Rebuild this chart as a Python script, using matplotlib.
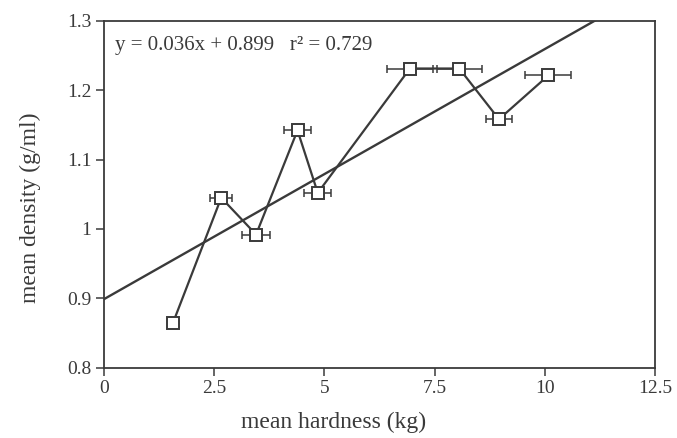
import numpy as np
import matplotlib.pyplot as plt

plt.rcParams['font.family'] = ['Liberation Serif', 'DejaVu Serif']

# data
hardness = [1.56, 2.66, 3.45, 4.39, 4.85, 6.94, 8.06, 8.96, 10.08]
density = [0.864, 1.045, 0.992, 1.142, 1.052, 1.231, 1.231, 1.158, 1.221]
hardness_err = [0.0, 0.25, 0.32, 0.31, 0.31, 0.52, 0.51, 0.30, 0.52]

slope = 0.036
intercept = 0.899
fit_label = 'y = 0.036x + 0.899   r² = 0.729'

xticks = [0, 2.5, 5, 7.5, 10, 12.5]
xticklabels = ['0', '2.5', '5', '7.5', '10', '12.5']
yticks = [0.8, 0.9, 1.0, 1.1, 1.2, 1.3]
yticklabels = ['0.8', '0.9', '1', '1.1', '1.2', '1.3']

ink = '#3a3a3a'

fig = plt.figure(figsize=(6.77, 4.38), dpi=100)
ax = fig.add_axes([0.1536, 0.160, 0.8139, 0.793])

# regression line
xs = np.array([0, 12.5])
ax.plot(xs, slope * xs + intercept, color=ink, lw=1.7, zorder=2)

# connecting line + horizontal error bars
ax.errorbar(hardness, density, xerr=hardness_err, fmt='none', ecolor=ink,
            elinewidth=1.1, capsize=2.8, capthick=1.1, zorder=3)
ax.plot(hardness, density, color=ink, lw=1.6, zorder=3)
ax.plot(hardness, density, ls='none', marker='s', ms=8.5, mfc='white',
        mec=ink, mew=1.4, zorder=4)

ax.text(0.25, 1.2635, fit_label, fontsize=15, color=ink, va='center', ha='left')

ax.set_xlim(0, 12.5)
ax.set_ylim(0.8, 1.3)
ax.set_xticks(xticks)
ax.set_xticklabels(xticklabels)
ax.set_yticks(yticks)
ax.set_yticklabels(yticklabels)
ax.tick_params(direction='out', length=6, width=1.1, color=ink,
               labelsize=14, labelcolor=ink, pad=3)
for s in ax.spines.values():
    s.set_color(ink)
    s.set_linewidth(1.3)

ax.set_xlabel('mean hardness (kg)', fontsize=17, color=ink, va='center')
ax.xaxis.set_label_coords(0.417, -0.158)
ax.set_ylabel('mean density (g/ml)', fontsize=17, color=ink, va='center')
ax.yaxis.set_label_coords(-0.134, 0.46)

fig.savefig('out.png', dpi=100)
